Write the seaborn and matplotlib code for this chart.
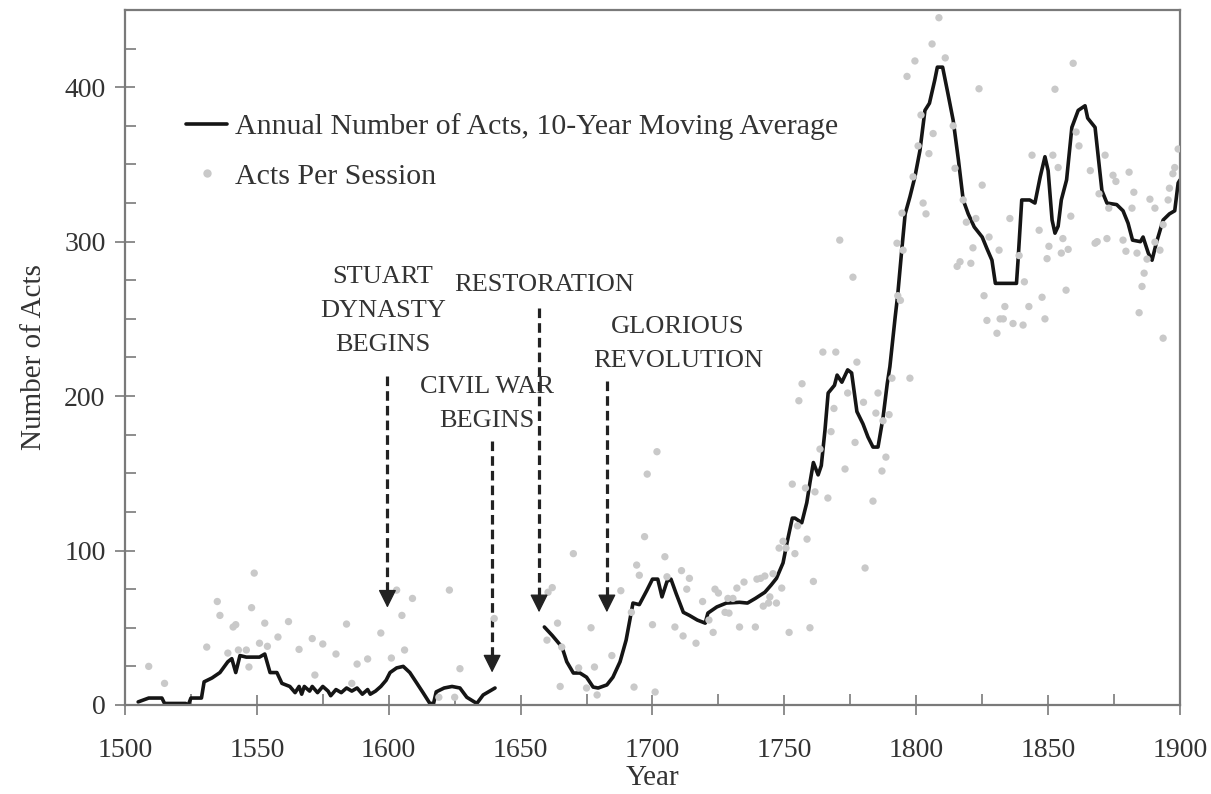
import numpy as np
import pandas as pd
import seaborn as sns
import matplotlib.pyplot as plt
import matplotlib.ticker as mtick
from matplotlib.lines import Line2D

# 10-year moving average of acts; NaN marks the Interregnum gap
ma_years = [1505, 1509, 1514, 1515, 1523, 1524, 1525, 1529, 1530, 1533, 1536, 1539, 1540.5, 1542,
            1543.6, 1546, 1551, 1553, 1555, 1557.6, 1559.5, 1562.5, 1564.5, 1566, 1567, 1568, 1570,
            1571, 1573, 1575, 1577, 1578, 1580, 1582, 1584, 1586, 1588, 1590, 1592, 1593, 1595, 1597,
            1599, 1600.5, 1603, 1605.5, 1608, 1610.7, 1613, 1615.6, 1617, 1618, 1621, 1624, 1627,
            1629.6, 1633.4, 1635.8, 1640.3, 1650,
            1659, 1662, 1665.7, 1667.5, 1670, 1672.5, 1675, 1677.5, 1679.4, 1682.7, 1685, 1687.7,
            1690, 1692.6, 1695, 1697.8, 1700, 1702, 1703.6, 1705.5, 1707, 1709, 1711.7, 1714, 1717,
            1720, 1721, 1724.4, 1728, 1733, 1736, 1739, 1742.6, 1745, 1747, 1749.5, 1751, 1753, 1754,
            1756.6, 1758.5, 1759.7, 1761, 1762.8, 1764, 1765.4, 1766.6, 1769, 1770, 1771.8, 1774,
            1775.5, 1777.5, 1779.8, 1781.7, 1783.6, 1785.5, 1787.4, 1789, 1790, 1792, 1793, 1794.5,
            1795.8, 1797.6, 1799.5, 1801.4, 1803.3, 1805, 1807, 1808, 1810, 1812, 1814, 1816, 1817.8,
            1819.7, 1822, 1825, 1826.8, 1828.7, 1830, 1833, 1838, 1838.6, 1840, 1843, 1845, 1847,
            1848.8, 1850, 1851.5, 1852.6, 1853.8, 1855, 1857, 1859, 1861.4, 1864, 1865, 1867.8, 1869,
            1870.4, 1872.3, 1876, 1878.4, 1880.3, 1882, 1885, 1886, 1888, 1889.4, 1891, 1893.6, 1896,
            1898, 1899.3, 1900]
ma_values = [2, 4.5, 4.5, 1, 1, 0, 4.5, 4.5, 15, 17.5, 21, 28, 30, 21,
             32, 31, 31, 33, 21, 21, 14, 12, 8, 12, 7, 12, 9,
             12, 8, 12, 9, 6, 10, 8, 11, 9, 11, 7, 10, 7, 9, 12,
             16, 21, 24, 25, 21, 14, 8, 1, 1, 8.5, 11, 12, 11,
             5, 1, 6.5, 11, np.nan,
             50.5, 45, 37.5, 28, 20.7, 20.7, 18, 11.6, 11, 13, 18, 28,
             42, 66, 65, 74, 81.5, 81.5, 70, 80, 81.5, 72, 60, 58, 55,
             53, 59.5, 63.5, 66, 66.5, 66, 69, 73, 77.7, 82, 92, 105, 121, 121,
             118, 131, 144, 157, 149, 155, 178, 202, 207, 213.6, 209, 217,
             215, 190, 182, 173.5, 167, 167, 186, 208, 219, 251, 266, 294.5,
             318, 329, 342, 359, 385, 389.6, 404.5, 413, 413, 396, 378.6, 352.8, 327,
             318, 309.5, 303, 295.5, 288, 273, 273, 273, 288, 327, 327, 325, 342,
             355, 346, 314, 305.5, 310, 327, 340, 374, 385, 388, 380, 374, 355,
             333, 325, 324, 320, 312, 301, 300, 303, 292.5, 288, 299, 314, 318,
             320, 338, 340]

# acts per session (scatter)
session_years = [1509, 1515, 1531, 1535, 1536, 1539, 1541, 1542, 1543, 1546, 1547, 1548, 1549, 1551,
                 1553, 1554, 1558, 1562, 1566, 1571, 1572, 1575, 1580, 1584, 1586, 1588, 1592, 1597,
                 1601, 1603, 1605, 1606, 1609, 1619, 1623, 1625, 1627, 1640,
                 1660, 1660.4, 1662, 1664, 1665, 1665.6, 1670, 1672, 1675, 1676.7, 1678, 1679, 1684.6,
                 1688, 1692, 1693, 1694, 1695, 1697, 1698, 1700, 1701, 1701.7, 1704.7, 1705.5, 1708.5,
                 1711, 1711.6, 1713, 1714, 1716.5, 1719, 1721.4, 1723, 1723.7, 1725, 1727.5, 1729,
                 1728.6, 1730.5, 1732, 1733, 1734.7, 1739, 1739.6, 1741, 1742, 1742.6, 1744, 1744.5,
                 1745.7, 1747, 1748, 1749, 1749.5, 1750.6, 1751.8, 1753, 1754, 1755, 1755.5, 1756.7,
                 1758, 1758.6, 1759.7, 1761, 1761.6, 1763.5, 1764.6, 1766.5, 1767.7, 1768.8, 1769.5,
                 1771, 1773, 1774, 1776, 1776.8, 1777.5, 1780, 1780.6, 1783.6, 1784.7, 1785.5, 1787,
                 1787.4, 1788.5, 1789.7, 1790.8, 1793, 1794, 1792.7, 1794.6, 1795, 1796.5, 1797.6,
                 1798.8, 1799.5, 1800.7, 1801.8, 1802.6, 1803.7, 1804.8, 1806, 1806.4, 1808.6, 1811,
                 1814, 1814.7, 1815.5, 1816.6, 1817.8, 1819, 1820.7, 1821.5, 1822.6, 1823.8, 1825,
                 1825.7, 1826.8, 1827.6, 1830.6, 1831.4, 1831.8, 1833, 1833.6, 1835.5, 1836.7, 1839,
                 1840.5, 1841, 1842.7, 1843.9, 1846.6, 1847.7, 1848.8, 1849.6, 1850.3, 1851.8, 1852.6,
                 1853.8, 1855, 1855.6, 1856.8, 1857.6, 1858.6, 1859.5, 1860.6, 1861.7, 1866, 1867.8,
                 1868.6, 1869.3, 1871.6, 1872.3, 1873, 1874.6, 1875.7, 1878.4, 1879.5, 1880.7, 1881.8,
                 1882.5, 1883.7, 1884.5, 1885.6, 1886.4, 1887.5, 1888.6, 1890.5, 1890.5, 1892.4,
                 1893.6, 1893.6, 1895.5, 1896, 1897.3, 1898, 1899.3]
session_values = [25, 14, 37.5, 67, 58, 33.6, 50.5, 52, 35.6, 35.6, 24.6, 63, 85.4, 40,
                  53, 38, 44, 54, 36, 43, 19.4, 39.5, 33, 52.4, 14, 26.5, 29.8, 46.6,
                  30.4, 74.4, 58, 35.6, 69, 5, 74.4, 5, 23.5, 56,
                  42, 73, 76, 53, 12, 37.5, 98, 24, 11, 50, 24.6, 6.5, 32,
                  74, 60, 11.6, 90.6, 84, 109, 149.5, 52, 8.4, 164, 96, 83, 50.5,
                  87, 44.7, 75, 82, 40, 67, 55, 47, 75, 72.5, 60, 59.5,
                  69, 69, 75.7, 50.5, 79.6, 50.5, 81.5, 82, 64, 83.5, 66, 70,
                  85, 66, 101.6, 75.7, 106, 101.6, 47, 143, 98, 116, 197, 208,
                  140.5, 107.4, 50, 80, 138, 165.7, 228.5, 134, 177, 192, 228.5,
                  301, 152.8, 202, 277, 170, 222, 196, 88.7, 132, 189, 202, 151.5,
                  184, 160.5, 188, 211.6, 265, 262, 299, 318.5, 294.5, 407, 211.6,
                  342, 417, 362, 382, 325, 318, 357, 428, 370, 445, 419,
                  375, 347.5, 284, 287, 327, 312.6, 286, 296, 315, 399, 336.6,
                  265, 249, 303, 240.7, 294.5, 250, 250, 258, 315, 247, 291,
                  246, 274, 258, 356, 307.4, 264, 250, 289, 297, 356, 398.7,
                  348, 292.6, 302, 268.6, 295, 316.5, 415.5, 371, 362, 346, 299,
                  300, 331, 356, 302, 321.7, 343, 339, 301, 293.8, 345, 321.7,
                  332, 292.6, 254, 271, 279.6, 288.7, 327.5, 321.7, 299.7, 294.5,
                  311, 237.5, 327, 334.6, 344, 348, 360]

ma = pd.DataFrame({"year": ma_years, "acts": ma_values})
ma["segment"] = (ma["year"] > 1650).astype(int)
ma = ma.dropna()
sessions = pd.DataFrame({"year": session_years, "acts": session_values})

# event labels: (text, text x, text y, arrow x, arrow start y, arrow tip y)
events = [
    ("STUART\nDYNASTY\nBEGINS", 1597.7, 255, 1599.5, 213, 63),
    ("CIVIL WAR\nBEGINS", 1637.3, 195, 1639.2, 171, 21),
    ("RESTORATION", 1659, 272, 1657, 257, 60),
    ("GLORIOUS\nREVOLUTION", 1709.7, 233.5, 1682.7, 210, 60),
]

sns.set_theme(style="ticks")
plt.rcParams["font.family"] = ["Liberation Serif", "DejaVu Serif"]
text_color = "#333333"
spine_color = "#7a7a7a"

fig = plt.figure(figsize=(12.11, 7.94), dpi=100)
ax = fig.add_axes([0.1032, 0.1121, 0.8712, 0.8753])

sns.lineplot(data=ma, x="year", y="acts", units="segment", estimator=None,
             color="#151515", linewidth=2.6, ax=ax, zorder=2)
sns.scatterplot(data=sessions, x="year", y="acts", color="#c9c9c9", s=28,
                edgecolor="none", ax=ax, zorder=3)

for label, tx, ty, ax_x, y0, y1 in events:
    ax.text(tx, ty, label, ha="center", va="center", fontsize=19,
            color=text_color, linespacing=1.72)
    ax.plot([ax_x, ax_x], [y0, y1 + 8], color="#222222", lw=2.3,
            dashes=(3, 1.6), zorder=1)
    ax.annotate("", xy=(ax_x, y1), xytext=(ax_x, y1 + 9),
                arrowprops=dict(arrowstyle="-|>", color="#222222", lw=1,
                                mutation_scale=28, shrinkA=0, shrinkB=0))

ax.set_xlim(1500, 1900)
ax.set_ylim(0, 450)
ax.xaxis.set_major_locator(mtick.MultipleLocator(50))
ax.xaxis.set_minor_locator(mtick.MultipleLocator(25))
ax.yaxis.set_major_locator(mtick.MultipleLocator(100))
ax.yaxis.set_minor_locator(mtick.MultipleLocator(25))
ax.tick_params(which="major", direction="inout", length=14, width=1.2,
               color=spine_color, labelsize=20, labelcolor=text_color)
ax.tick_params(axis="x", which="major", pad=17)
ax.tick_params(axis="y", which="major", pad=7)
ax.tick_params(which="minor", direction="in", length=8, width=1.2, color=spine_color)
for spine in ax.spines.values():
    spine.set_color(spine_color)
    spine.set_linewidth(1.6)

ax.set_xlabel("Year", fontsize=21, color=text_color, labelpad=1)
ax.set_ylabel("Number of Acts", fontsize=21, color=text_color, labelpad=12)

handles = [
    Line2D([], [], color="#151515", lw=2.6),
    Line2D([], [], color="#c9c9c9", marker="o", markersize=5, lw=0),
]
ax.legend(handles, ["Annual Number of Acts, 10-Year Moving Average", "Acts Per Session"],
          loc="upper left", bbox_to_anchor=(0.032, 0.89), frameon=False,
          fontsize=21.5, labelcolor=text_color, handlelength=1.4, handletextpad=0.25,
          labelspacing=0.75)

fig.savefig("out.png", dpi=100)
